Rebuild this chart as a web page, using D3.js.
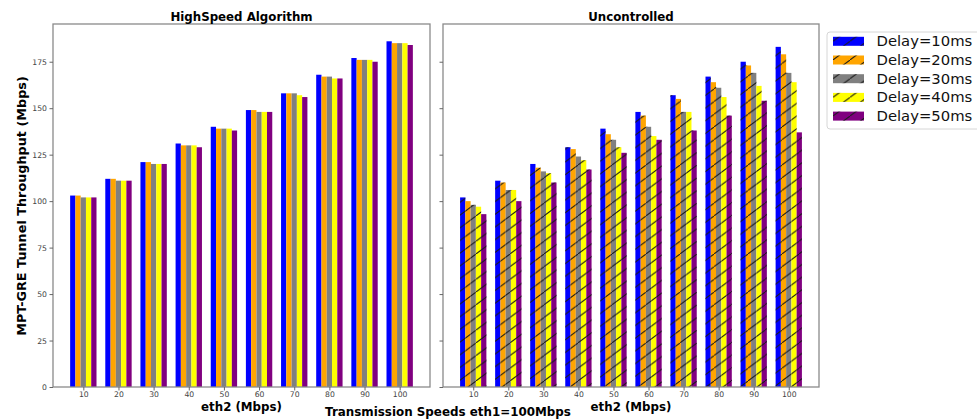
<!DOCTYPE html>
<html>
<head>
<meta charset="utf-8">
<script src="https://cdn.jsdelivr.net/npm/d3@7"></script>
<style>
  body { margin: 0; background: #fff; }
  svg { display: block; font-family: "DejaVu Sans", sans-serif; }
</style>
</head>
<body>
<svg width="977" height="419"></svg>
<script>
// eth2 speeds (Mbps)
var categories = [10, 20, 30, 40, 50, 60, 70, 80, 90, 100];
var delays = ["Delay=10ms", "Delay=20ms", "Delay=30ms", "Delay=40ms", "Delay=50ms"];
var yTicks = [0, 25, 50, 75, 100, 125, 150, 175];

// HighSpeed Algorithm
var hs10 = [103, 112, 121, 131, 140, 149, 158, 168, 177, 186];
var hs20 = [103, 112, 121, 130, 139, 149, 158, 167, 176, 185];
var hs30 = [102, 111, 120, 130, 139, 148, 158, 167, 176, 185];
var hs40 = [102, 111, 120, 130, 139, 148, 157, 166, 176, 185];
var hs50 = [102, 111, 120, 129, 138, 148, 156, 166, 175, 184];

// Uncontrolled
var un10 = [102, 111, 120, 129, 139, 148, 157, 167, 175, 183];
var un20 = [100, 110, 118, 128, 136, 146, 155, 164, 173, 179];
var un30 = [98, 106, 116, 124, 133, 140, 148, 161, 169, 169];
var un40 = [97, 106, 115, 122, 129, 135, 148, 156, 162, 164];
var un50 = [93, 100, 110, 117, 126, 133, 138, 146, 154, 137];

var colors = ["#0000ff", "#ffa500", "#808080", "#ffff00", "#800080"];

var svg = d3.select("svg");

var defs = svg.append("defs");
var hatch = defs.append("pattern")
    .attr("id", "hatch")
    .attr("patternUnits", "userSpaceOnUse")
    .attr("width", 17)
    .attr("height", 12.7);
hatch.append("line")
    .attr("x1", -1).attr("y1", 12.7 + 0.75)
    .attr("x2", 18).attr("y2", -0.75)
    .attr("stroke", "#1a1a1a")
    .attr("stroke-width", 1);

var plotTop = 24, plotBottom = 387;
var barW = 0.15;

var y = d3.scaleLinear()
    .domain([0, 195.3])
    .range([plotBottom, plotTop]);

function panel(left, right, title, series, hatched, showLabels) {
    var x = d3.scaleLinear()
        .domain([-0.8625, categories.length - 1 + 0.8625])
        .range([left, right]);

    var g = svg.append("g");

    series.forEach(function(vals, s) {
        var off = (s - 2) * barW;
        g.append("g").selectAll("rect")
            .data(vals)
            .enter().append("rect")
            .attr("x", function(d, i) { return x(i + off - barW / 2); })
            .attr("width", x(barW) - x(0))
            .attr("y", function(d) { return y(d); })
            .attr("height", function(d) { return y(0) - y(d); })
            .attr("fill", colors[s]);
        if (hatched) {
            g.append("g").selectAll("rect")
                .data(vals)
                .enter().append("rect")
                .attr("x", function(d, i) { return x(i + off - barW / 2); })
                .attr("width", x(barW) - x(0))
                .attr("y", function(d) { return y(d); })
                .attr("height", function(d) { return y(0) - y(d); })
                .attr("fill", "url(#hatch)");
        }
    });

    // frame
    g.append("rect")
        .attr("x", left).attr("y", plotTop)
        .attr("width", right - left).attr("height", plotBottom - plotTop)
        .attr("fill", "none")
        .attr("stroke", "#8a8a8a")
        .attr("stroke-width", 1.3);

    var xAxis = g.append("g")
        .attr("transform", "translate(0," + plotBottom + ")")
        .call(d3.axisBottom(x)
            .tickValues(d3.range(categories.length))
            .tickFormat(function(i) { return categories[i]; })
            .tickSize(3.5)
            .tickPadding(1.5));
    xAxis.select(".domain").remove();

    var yAxis = g.append("g")
        .attr("transform", "translate(" + left + ",0)")
        .call(d3.axisLeft(y)
            .tickValues(yTicks)
            .tickSize(3.5)
            .tickPadding(2.5)
            .tickFormat(showLabels ? d3.format("d") : ""));
    yAxis.select(".domain").remove();

    g.selectAll(".tick line").attr("stroke", "#666");
    g.selectAll(".tick text")
        .attr("fill", "#444")
        .style("font-size", "7.7px")
        .style("font-family", "DejaVu Sans");

    g.append("text")
        .attr("x", (left + right) / 2)
        .attr("y", 20.5)
        .attr("text-anchor", "middle")
        .attr("font-weight", "bold")
        .attr("font-size", 11.8)
        .text(title);

    g.append("text")
        .attr("x", (left + right) / 2)
        .attr("y", 410.5)
        .attr("text-anchor", "middle")
        .attr("font-weight", "bold")
        .attr("font-size", 11.8)
        .text("eth2 (Mbps)");
}

panel(53, 430, "HighSpeed Algorithm", [hs10, hs20, hs30, hs40, hs50], false, true);
panel(443, 819, "Uncontrolled", [un10, un20, un30, un40, un50], true, false);

svg.append("text")
    .attr("transform", "translate(26,206) rotate(-90)")
    .attr("text-anchor", "middle")
    .attr("font-weight", "bold")
    .attr("font-size", 12.8)
    .text("MPT-GRE Tunnel Throughput (Mbps)");

svg.append("text")
    .attr("x", 448)
    .attr("y", 416.3)
    .attr("text-anchor", "middle")
    .attr("font-weight", "bold")
    .attr("font-size", 11.9)
    .text("Transmission Speeds eth1=100Mbps");

// legend
var legend = svg.append("g");
legend.append("rect")
    .attr("x", 827).attr("y", 32)
    .attr("width", 170).attr("height", 97)
    .attr("rx", 3)
    .attr("fill", "#fff")
    .attr("stroke", "#d6d6d6");

var item = legend.selectAll("g.item")
    .data(delays)
    .enter().append("g")
    .attr("class", "item")
    .attr("transform", function(d, i) { return "translate(0," + (41.3 + i * 18.7) + ")"; });

item.append("rect")
    .attr("x", 833).attr("y", -4.5)
    .attr("width", 31).attr("height", 9)
    .attr("fill", function(d, i) { return colors[i]; });
item.append("rect")
    .attr("x", 833).attr("y", -4.5)
    .attr("width", 31).attr("height", 9)
    .attr("fill", "url(#hatch)");
item.append("text")
    .attr("x", 876.5)
    .attr("y", 5)
    .attr("font-size", 14.8)
    .attr("fill", "#111")
    .text(function(d) { return d; });
</script>
</body>
</html>
